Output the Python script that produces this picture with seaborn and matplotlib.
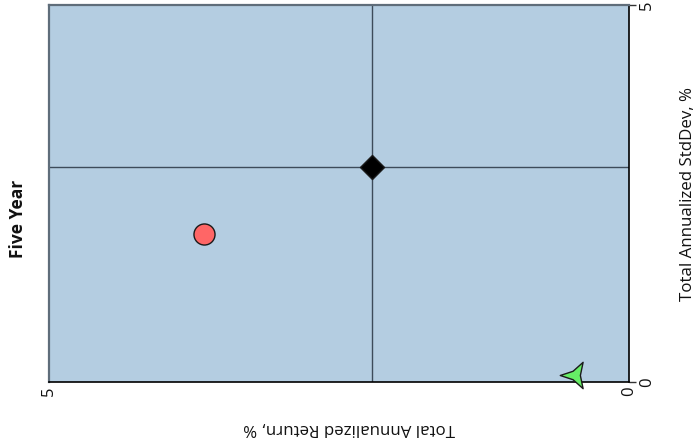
import numpy as np
import pandas as pd
import seaborn as sns
import matplotlib.pyplot as plt
from matplotlib.path import Path

# values
names = ['Fund', 'Peer', 'Benchmark']
returns = [3.66, 0.47, 2.22]      # horizontal axis (reversed, 5 -> 0)
stddevs = [1.96, 0.09, 2.85]      # vertical axis on the right
colors = ['#ff6666', '#66ee66', '#000000']
sizes = [230, 480, 150]
x_ticks = [0, 5]
y_ticks = [0, 5]

df = pd.DataFrame({'name': names, 'ret': returns, 'std': stddevs})

# three pointed concave star pointing left
ang = np.deg2rad(np.arange(6) * 60 + 180)
rad = np.array([1.0, 0.32] * 3)
pts = np.column_stack([rad * np.cos(ang), rad * np.sin(ang)])
star = Path(np.vstack([pts, pts[:1]]), closed=True)
markers = ['o', star, 'D']

sns.set_style('white')
plt.rcParams['font.family'] = ['Open Sans', 'DejaVu Sans']
plt.rcParams['text.color'] = '#111111'

fig = plt.figure(figsize=(6.99, 4.44), dpi=100)
ax = fig.add_axes([0.070, 0.140, 0.830, 0.849])
ax.set_facecolor('#b4cde1')

# crosshair through the benchmark point
bench = df[df['name'] == 'Benchmark'].iloc[0]
ax.axhline(bench['std'], color='#3d4b5a', lw=1, zorder=1)
ax.axvline(bench['ret'], color='#3d4b5a', lw=1, zorder=1)

for i, row in df.iterrows():
    sns.scatterplot(x=[row['ret']], y=[row['std']], ax=ax, color=colors[i],
                    marker=markers[i], s=sizes[i], edgecolor='#1a1a1a',
                    linewidth=1, zorder=3, clip_on=False, legend=False)

ax.set_xlim(5, 0)
ax.set_ylim(0, 5)
ax.set_xticks(x_ticks)
ax.set_yticks(y_ticks)
ax.yaxis.tick_right()
ax.tick_params(axis='both', direction='out', length=5, width=1, color='#333333',
               labelsize=12, labelcolor='#111111', pad=2)
for lab in ax.get_xticklabels() + ax.get_yticklabels():
    lab.set_rotation(90)
    lab.set_va('center')

for side in ['left', 'top']:
    ax.spines[side].set_color('#5f6d7a')
    ax.spines[side].set_linewidth(1.6)
for side in ['right', 'bottom']:
    ax.spines[side].set_color('#000000')
    ax.spines[side].set_linewidth(1.2)

ax.set_xlabel('')
ax.set_ylabel('')
fig.text(0.500, 0.036, 'Total Annualized Return, %', rotation=180,
         ha='center', va='center', fontsize=12.2)
fig.text(0.984, 0.562, 'Total Annualized StdDev, %', rotation=90,
         ha='center', va='center', fontsize=12.2)
fig.text(0.026, 0.507, 'Five Year', rotation=90, ha='center', va='center',
         fontsize=12.5, fontweight='bold')

fig.savefig('out.png', dpi=100)
